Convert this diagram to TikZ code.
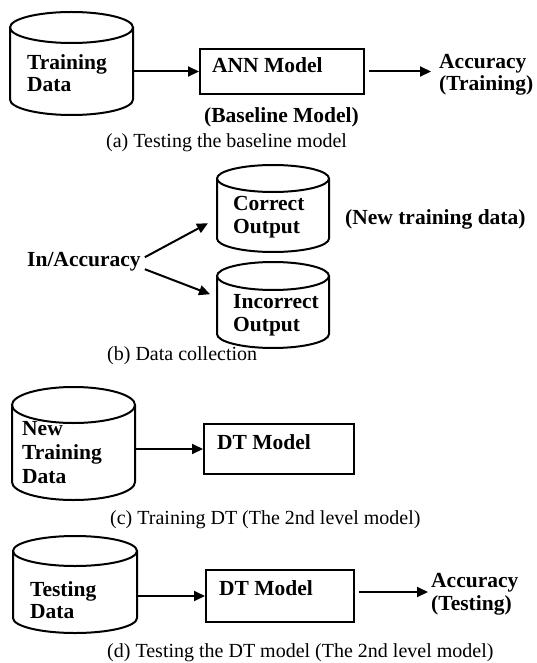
\documentclass[tikz,border=0pt]{standalone}
\usepackage{fontspec}
\setmainfont{Liberation Serif}
\usetikzlibrary{arrows.meta}
\newcommand\drawcyl[6]{% name,left,right,top,bottom,ry
  \pgfmathsetmacro\cylcx{(#2+#3)/2}%
  \pgfmathsetmacro\cylrx{(#3-#2)/2}%
  \pgfmathsetmacro\cylya{#4+#6}%
  \pgfmathsetmacro\cylyb{#5-#6}%
  \pgfmathsetmacro\cylw{#3-#2}%
  \pgfmathsetmacro\cylh{#5-#4}%
  \node[cylbox, minimum width=\cylw pt, minimum height=\cylh pt] (#1) at (#2,#4) {};
  \draw[line width=2pt] (\cylcx,\cylya) ellipse[x radius=\cylrx pt, y radius=#6pt];
  \draw[line width=2pt] (#2,\cylya) -- (#2,\cylyb) arc[start angle=180, end angle=360, x radius=\cylrx pt, y radius=#6pt] -- (#3,\cylya);
}
\begin{document}
\begin{tikzpicture}[x=1pt,y=-1pt,
  lbl/.style={font=\fontsize{21.5}{22.5}\selectfont\bfseries, inner sep=0pt, align=left, anchor=base west},
  capt/.style={font=\fontsize{20}{22}\selectfont, inner sep=0pt, anchor=base west},
  boxnode/.style={draw, line width=2pt, inner sep=0pt, anchor=north west},
  arr/.style={line width=2pt, -{Triangle[length=11pt,width=10pt]}},
  cylbox/.style={inner sep=0pt, anchor=north west}]
\useasboundingbox[fill=white] (0,0) rectangle (536,663);

% (a)
\drawcyl{cylA}{10}{133}{12}{115}{15.5}
\node[lbl] (trainA) at (27,92) {Training\\Data};
\node[boxnode, minimum width=164pt, minimum height=45pt] (ann) at (199,48) {};
\node[lbl] (annT) at (212,73) {ANN Model};
\node[lbl] (accA) at (439,91) {Accuracy\\(Training)};
\node[lbl] (baseM) at (204,123) {(Baseline Model)};
\node[capt] (capA) at (106,148) {(a) Testing the baseline model};
\draw[arr] (ann.west -| cylA.east) -- (ann.west);
\draw[arr, shorten >=8pt] ([shift={(4,0)}]ann.east) -- (ann.east -| accA.west);

% (b)
\drawcyl{corr}{217}{329}{165}{252}{13.5}
\drawcyl{incorr}{217}{329}{262}{348}{14}
\node[lbl] (inacc) at (27,266) {In/Accuracy};
\node[lbl] (corrT) at (233,233) {Correct\\Output};
\node[lbl] (incorrT) at (233,331) {Incorrect\\Output};
\node[lbl] (newD) at (345,224) {(New training data)};
\node[capt] (capB) at (107,360) {(b) Data collection};
\draw[arr] ([shift={(4,-4)}]inacc.east) -- ([shift={(-9,14.5)}]corr.west);
\draw[arr] ([shift={(4,8)}]inacc.east) -- ([shift={(-7,-11)}]incorr.west);

% (c)
\drawcyl{cylC}{12}{135}{387}{500}{18}
\node[lbl, font=\fontsize{21.5}{24}\selectfont\bfseries] (newTr) at (22,483) {New\\Training\\Data};
\node[boxnode, minimum width=150pt, minimum height=50pt] (dtC) at (203,423) {};
\node[lbl] (dtCT) at (217,449) {DT Model};
\node[capt] (capC) at (110,524) {(c) Training DT (The 2nd level model)};
\draw[arr] (dtC.west -| cylC.east) -- (dtC.west);

% (d)
\drawcyl{cylD}{13}{137}{536}{633}{15}
\node[lbl, font=\fontsize{21.5}{21.5}\selectfont\bfseries] (testD) at (30,618) {Testing\\Data};
\node[boxnode, minimum width=148pt, minimum height=52pt] (dtD) at (205,569) {};
\node[lbl] (dtDT) at (219,595) {DT Model};
\node[lbl] (accD) at (431,610) {Accuracy\\(Testing)};
\node[capt] (capD) at (107,657) {(d) Testing the DT model (The 2nd level model)};
\draw[arr] (dtD.west -| cylD.east) -- (dtD.west);
\draw[arr, shorten >=7pt] ([shift={(4,-4)}]dtD.east) -- ([shift={(4,-4)}]dtD.east -| accD.west);
\end{tikzpicture}
\end{document}
